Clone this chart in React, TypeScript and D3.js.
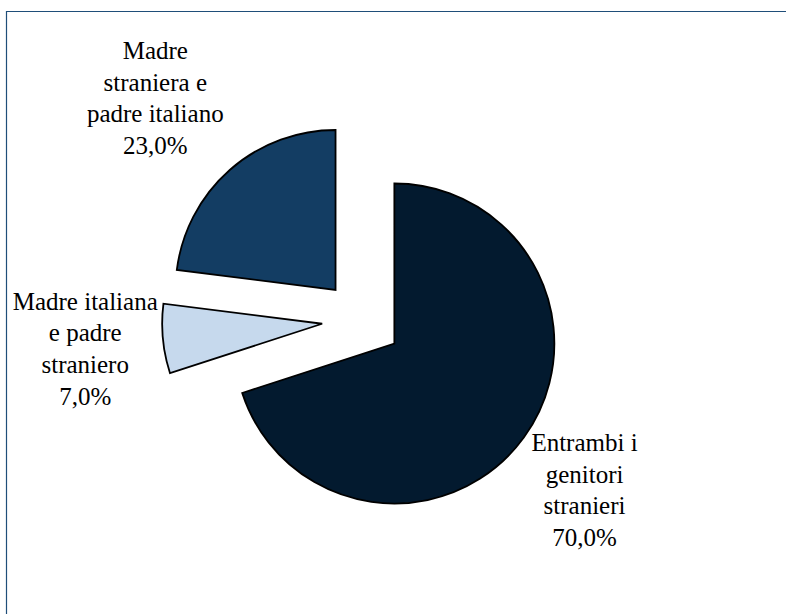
import React from "react";
import * as d3 from "d3";

const categories = [
  ["Entrambi i", "genitori", "stranieri"],
  ["Madre italiana", "e padre", "straniero"],
  ["Madre", "straniera e", "padre italiano"],
];
const values = [70.0, 7.0, 23.0];
const valueLabels = ["70,0%", "7,0%", "23,0%"];

const colors = ["#031a2f", "#c6d9ed", "#133d63"];
const labelDist = [280, 278, 302];
const labelNudge = [
  [-4, 4],
  [0, 1],
  [-7, 3],
];

const W = 786;
const H = 614;
const cx = 362;
const cy = 320;
const R = 160;
const explode = 40;
const lineH = 31.6;

export default function App() {
  const pie = d3
    .pie<number>()
    .sort(null)
    .startAngle(0)
    .endAngle(2 * Math.PI)
    .value((d) => d);
  const arcs = pie(values);
  const arc = d3.arc<d3.PieArcDatum<number>>().innerRadius(0).outerRadius(R);

  return (
    <svg
      width={W}
      height={H}
      style={{ position: "absolute", left: 0, top: 0, background: "#fff" }}
    >
      <rect x={0} y={0} width={W} height={H} fill="#fff" />
      <path d={`M6.5,${H + 5} L6.5,11.5 L${W + 5},11.5`} fill="none" stroke="#1f4e79" strokeWidth={1.2} />
      {arcs.map((a, i) => {
        const mid = (a.startAngle + a.endAngle) / 2;
        const ox = Math.sin(mid) * explode;
        const oy = -Math.cos(mid) * explode;
        return (
          <path
            key={i}
            d={arc(a) || ""}
            transform={`translate(${cx + ox},${cy + oy})`}
            fill={colors[i]}
            stroke="#000"
            strokeWidth={1.8}
            strokeLinejoin="miter"
          />
        );
      })}
      {arcs.map((a, i) => {
        const mid = (a.startAngle + a.endAngle) / 2;
        const lx = cx + Math.sin(mid) * labelDist[i] + labelNudge[i][0];
        const ly = cy - Math.cos(mid) * labelDist[i] + labelNudge[i][1];
        const lines = [...categories[i], valueLabels[i]];
        return (
          <text
            key={"t" + i}
            textAnchor="middle"
            style={{ fontFamily: "Liberation Serif, Tinos, DejaVu Serif, serif", fontSize: "25px" }}
            fill="#000"
          >
            {lines.map((t, j) => (
              <tspan key={j} x={lx} y={ly + (j - (lines.length - 1) / 2) * lineH + 10}>
                {t}
              </tspan>
            ))}
          </text>
        );
      })}
    </svg>
  );
}
